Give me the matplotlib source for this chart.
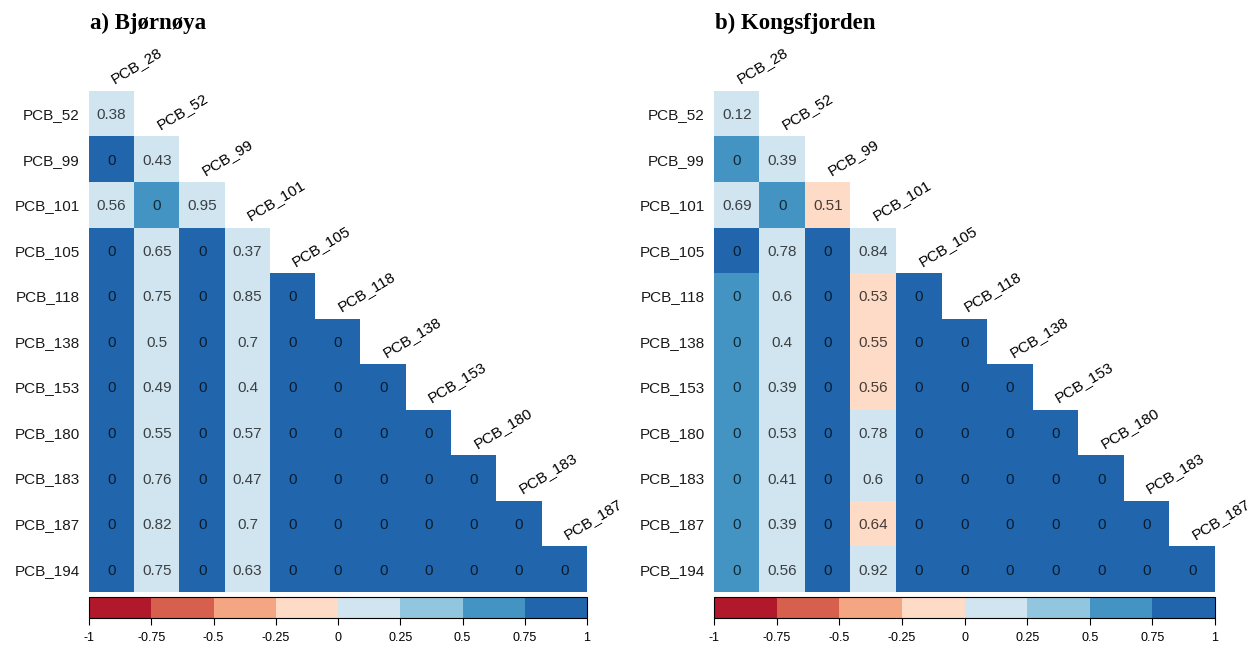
import numpy as np
import matplotlib.pyplot as plt
from matplotlib.colors import ListedColormap, BoundaryNorm
from matplotlib.colorbar import ColorbarBase

pcb_rows = ['PCB_52', 'PCB_99', 'PCB_101', 'PCB_105', 'PCB_118', 'PCB_138',
            'PCB_153', 'PCB_180', 'PCB_183', 'PCB_187', 'PCB_194']
pcb_cols = ['PCB_28', 'PCB_52', 'PCB_99', 'PCB_101', 'PCB_105', 'PCB_118',
            'PCB_138', 'PCB_153', 'PCB_180', 'PCB_183', 'PCB_187']

# printed values (lower triangle, row by row)
vals_bjornoya = [
    [0.38],
    [0, 0.43],
    [0.56, 0, 0.95],
    [0, 0.65, 0, 0.37],
    [0, 0.75, 0, 0.85, 0],
    [0, 0.5, 0, 0.7, 0, 0],
    [0, 0.49, 0, 0.4, 0, 0, 0],
    [0, 0.55, 0, 0.57, 0, 0, 0, 0],
    [0, 0.76, 0, 0.47, 0, 0, 0, 0, 0],
    [0, 0.82, 0, 0.7, 0, 0, 0, 0, 0, 0],
    [0, 0.75, 0, 0.63, 0, 0, 0, 0, 0, 0, 0],
]
vals_kongsfjorden = [
    [0.12],
    [0, 0.39],
    [0.69, 0, 0.51],
    [0, 0.78, 0, 0.84],
    [0, 0.6, 0, 0.53, 0],
    [0, 0.4, 0, 0.55, 0, 0],
    [0, 0.39, 0, 0.56, 0, 0, 0],
    [0, 0.53, 0, 0.78, 0, 0, 0, 0],
    [0, 0.41, 0, 0.6, 0, 0, 0, 0, 0],
    [0, 0.39, 0, 0.64, 0, 0, 0, 0, 0, 0],
    [0, 0.56, 0, 0.92, 0, 0, 0, 0, 0, 0, 0],
]

# correlation coefficients used for cell colours (estimated)
corr_bjornoya = [
    [0.15],
    [0.9, 0.15],
    [0.15, 0.6, 0.1],
    [0.9, 0.15, 0.9, 0.15],
    [0.9, 0.1, 0.9, 0.1, 0.9],
    [0.9, 0.15, 0.9, 0.1, 0.9, 0.9],
    [0.9, 0.15, 0.9, 0.15, 0.9, 0.9, 0.9],
    [0.9, 0.15, 0.9, 0.15, 0.9, 0.9, 0.9, 0.9],
    [0.9, 0.1, 0.9, 0.15, 0.9, 0.9, 0.9, 0.9, 0.9],
    [0.9, 0.1, 0.9, 0.1, 0.9, 0.9, 0.9, 0.9, 0.9, 0.9],
    [0.9, 0.1, 0.9, 0.1, 0.9, 0.9, 0.9, 0.9, 0.9, 0.9, 0.9],
]
corr_kongsfjorden = [
    [0.2],
    [0.6, 0.15],
    [0.1, 0.6, -0.1],
    [0.8, 0.1, 0.9, 0.05],
    [0.65, 0.1, 0.9, -0.1, 0.9],
    [0.65, 0.15, 0.9, -0.1, 0.9, 0.9],
    [0.65, 0.15, 0.9, -0.1, 0.9, 0.9, 0.9],
    [0.65, 0.1, 0.9, 0.05, 0.9, 0.9, 0.9, 0.9],
    [0.65, 0.15, 0.9, 0.1, 0.9, 0.9, 0.9, 0.9, 0.9],
    [0.65, 0.15, 0.9, -0.1, 0.9, 0.9, 0.9, 0.9, 0.9, 0.9],
    [0.65, 0.1, 0.9, 0.02, 0.9, 0.9, 0.9, 0.9, 0.9, 0.9, 0.9],
]

bins = np.linspace(-1, 1, 9)
cmap = ListedColormap(['#B2182B', '#D6604D', '#F4A582', '#FDDBC7',
                       '#D1E5F0', '#92C5DE', '#4393C3', '#2166AC'])
norm = BoundaryNorm(bins, cmap.N)

W, H = 1252, 648
fig = plt.figure(figsize=(W / 100, H / 100), dpi=100)
plt.rcParams['font.family'] = 'Liberation Sans'


def to_matrix(tri):
    n = len(tri)
    m = np.full((n, n), np.nan)
    for i, row in enumerate(tri):
        m[i, :len(row)] = row
    return m


def draw_panel(x0, w, title, corr, vals):
    ax = fig.add_axes([x0 / W, (H - 592) / H, w / W, 501 / H])
    cm = np.ma.masked_invalid(to_matrix(corr))
    ax.imshow(cm, cmap=cmap, norm=norm, aspect='auto', interpolation='nearest')
    ax.set_xlim(-0.5, 10.5)
    ax.set_ylim(10.5, -0.5)
    ax.axis('off')
    for i, row in enumerate(vals):
        for j, v in enumerate(row):
            ax.text(j, i + 0.03, f'{v:g}', ha='center', va='center',
                    fontsize=11, color='black', alpha=0.72)
        ax.text(-0.7, i + 0.03, pcb_rows[i], ha='right', va='center',
                fontsize=11, color='#1a1a1a')
    for j, lab in enumerate(pcb_cols):
        ax.text(j + 0.1, j - 0.6, lab, ha='left', va='bottom', rotation=31,
                rotation_mode='anchor', fontsize=11, color='black')
    fig.text((x0 + 1) / W, 1 - 23 / H, title, fontsize=16.5, fontweight='bold',
             family='Liberation Serif', ha='left', va='center')

    cax = fig.add_axes([x0 / W, 30 / H, w / W, 21 / H])
    cb = ColorbarBase(cax, cmap=cmap, norm=norm, orientation='horizontal',
                      boundaries=bins, ticks=bins)
    cb.outline.set_linewidth(0.8)
    cb.ax.set_xticklabels(['-1', '-0.75', '-0.5', '-0.25', '0', '0.25',
                           '0.5', '0.75', '1'])
    cb.ax.tick_params(labelsize=9, length=5, width=0.8, pad=5)


draw_panel(89, 498, 'a) Bjørnøya', corr_bjornoya, vals_bjornoya)
draw_panel(714, 501, 'b) Kongsfjorden', corr_kongsfjorden, vals_kongsfjorden)

fig.savefig('out.png', dpi=100)
